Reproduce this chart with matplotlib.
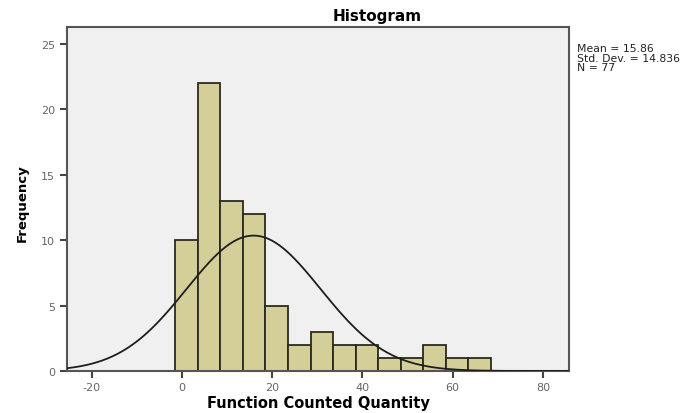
import numpy as np
import matplotlib
matplotlib.use("Agg")
import matplotlib.pyplot as plt

plt.rcParams['font.family'] = ['DejaVu Sans']
plt.rcParams['axes.unicode_minus'] = False

# Data
bin_edges = [-1.5, 3.5, 8.5, 13.5, 18.5, 23.5, 28.5, 33.5, 38.5, 43.5, 48.5, 53.5, 58.5, 63.5, 68.5]
counts = [10, 22, 13, 12, 5, 2, 3, 2, 2, 1, 1, 2, 1, 1]
mean = 15.86
std = 14.836
n = 77
x_ticks = [-20, 0, 20, 40, 60, 80]
y_ticks = [0, 5, 10, 15, 20, 25]

fig = plt.figure(figsize=(6.92, 4.14), dpi=100)
ax = fig.add_axes([67/692, 42/414, 502/692, 344/414])
ax.set_facecolor('#f0f0f0')

lefts = np.array(bin_edges[:-1])
widths = np.diff(bin_edges)
ax.bar(lefts, counts, width=widths, align='edge', color='#d4cf98',
       edgecolor='#2a2a1e', linewidth=1.3, zorder=2)

xlim = (-25.5, 85.8)
xs = np.linspace(xlim[0], xlim[1], 400)
bw = widths[0]
ys = n * bw / (std * np.sqrt(2 * np.pi)) * np.exp(-0.5 * ((xs - mean) / std) ** 2)
ax.plot(xs, ys, color='#1e1e1e', linewidth=1.3, zorder=3)

ax.set_xlim(*xlim)
ax.set_ylim(0, 26.3)
ax.set_xticks(x_ticks)
ax.set_yticks(y_ticks)
ax.tick_params(axis='both', direction='out', length=5, width=1.5, color='#444444',
               labelcolor='#666666', labelsize=8)
ax.tick_params(axis='x', pad=3)
for s in ax.spines.values():
    s.set_color('#555555')
    s.set_linewidth(1.5)

fig.text(318/692, 1 - 404/414, 'Function Counted Quantity', ha='center', va='center',
         fontsize=10.5, fontweight='bold')
fig.text(22/692, 1 - 203/414, 'Frequency', ha='center', va='center', rotation=90,
         fontsize=9.5, fontweight='bold')

fig.text(377/692, 1 - 16/414, 'Histogram', ha='center', va='center',
         fontsize=11, fontweight='bold')
fig.text(577/692, 1 - 44/414, 'Mean = 15.86\nStd. Dev. = 14.836\nN = 77',
         ha='left', va='top', fontsize=7.8, linespacing=0.95, color='#222222')

fig.savefig('out.png', dpi=100)
